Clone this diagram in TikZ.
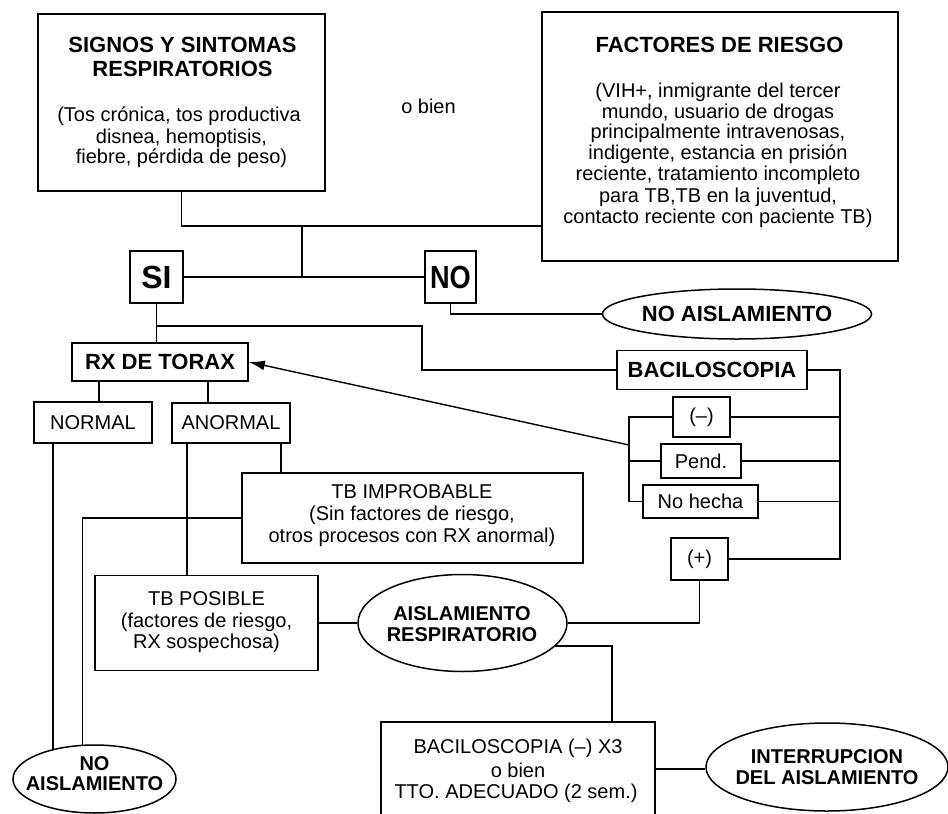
\documentclass[tikz,border=0pt]{standalone}
\usepackage{fontspec}
\setmainfont{Liberation Sans}
\usepackage{graphicx}
\usetikzlibrary{arrows.meta,shapes.geometric}
\begin{document}
\begin{tikzpicture}[x=1pt,y=-1pt,
  boxn/.style={draw,line width=1.6pt,inner sep=0pt},
  ell/.style={draw,ellipse,line width=1.5pt,inner sep=0pt},
  conn/.style={line width=1.4pt},
  tx/.style={anchor=base,inner sep=0pt,font=\fontsize{20}{22}\selectfont},
  btx/.style={anchor=base,inner sep=0pt,font=\bfseries\fontsize{22}{24}\selectfont},
  etx/.style={anchor=base,inner sep=0pt,font=\bfseries\fontsize{20}{22}\selectfont},
  rf/.style={font=\fontsize{20}{22}\selectfont},
  bf/.style={font=\bfseries\fontsize{22}{24}\selectfont}
]
\fill[white] (0,0) rectangle (948,814);
\useasboundingbox (0,0) rectangle (948,814);

% ---- top boxes
\node[boxn,minimum width=287pt,minimum height=177pt] (signos) at (181.5,102.5) {};
\node[btx] (signos1) at (182.5,52) {SIGNOS Y SINTOMAS};
\node[btx] (signos2) at (182.5,76) {RESPIRATORIOS};
\node[tx] (signos3) at (179,121) {(Tos crónica, tos productiva};
\node[tx] (signos4) at (181.5,143) {disnea, hemoptisis,};
\node[tx] (signos5) at (181.5,163) {fiebre, pérdida de peso)};

\node[tx] (obien) at (428.5,113) {o bien};

\node[boxn,minimum width=356pt,minimum height=249pt] (factores) at (720,136.5) {};
\node[btx] (fac1) at (719.5,52) {FACTORES DE RIESGO};
\node[tx] (fac2) at (718,97) {(VIH+, inmigrante del tercer};
\node[tx] (fac3) at (718,118) {mundo, usuario de drogas};
\node[tx] (fac4) at (718,138) {principalmente intravenosas,};
\node[tx] (fac5) at (718,159) {indigente, estancia en prisión};
\node[tx] (fac6) at (718,180) {reciente, tratamiento incompleto};
\node[tx] (fac7) at (718,202) {para TB,TB en la juventud,};
\node[tx] (fac8) at (718,223) {contacto reciente con paciente TB)};

% ---- SI / NO
\node[boxn,minimum width=53pt,minimum height=52pt,font=\bfseries\fontsize{32}{34}\selectfont] (si) at (156.5,277) {SI};
\node[boxn,minimum width=51pt,minimum height=52pt,font=\bfseries\fontsize{32}{34}\selectfont] (no) at (450.5,277) {\scalebox{0.85}[1]{NO}};
\node[ell,bf,minimum width=230pt,minimum height=50pt] (noais1) at (737,314) {NO AISLAMIENTO};

% ---- RX and baciloscopia
\node[boxn,bf,minimum width=176pt,minimum height=38pt] (rx) at (160,362) {RX DE TORAX};
\node[boxn,bf,minimum width=190pt,minimum height=39pt] (bacil) at (712,370) {BACILOSCOPIA};
\node[boxn,rf,minimum width=57pt,minimum height=40pt] (neg) at (701.5,417) {(–)};
\node[boxn,rf,minimum width=80pt,minimum height=34pt] (pend) at (701,461) {Pend.};
\node[boxn,rf,minimum width=115pt,minimum height=33pt] (nohecha) at (700.5,501.5) {No hecha};
\node[boxn,rf,minimum width=57pt,minimum height=42pt] (pos) at (699.5,559) {(+)};

\node[boxn,rf,minimum width=118pt,minimum height=41pt] (normal) at (93,422.5) {NORMAL};
\node[boxn,rf,minimum width=118pt,minimum height=40pt] (anormal) at (231,423) {ANORMAL};

% ---- TB improbable / posible
\node[boxn,minimum width=341pt,minimum height=90pt] (tbimp) at (412.5,518) {};
\node[tx] (tbimp1) at (412,498) {TB IMPROBABLE};
\node[tx] (tbimp2) at (412,520) {(Sin factores de riesgo,};
\node[tx] (tbimp3) at (412,542) {otros procesos con RX anormal)};

\node[boxn,minimum width=223pt,minimum height=95pt] (tbpos) at (206.5,623) {};
\node[tx] (tbpos1) at (206.5,605) {TB POSIBLE};
\node[tx] (tbpos2) at (206.5,627) {(factores de riesgo,};
\node[tx] (tbpos3) at (206.5,648) {RX sospechosa)};

\node[ell,minimum width=209pt,minimum height=97pt] (aislresp) at (462.5,623) {};
\node[etx] (aisl1) at (462,620) {AISLAMIENTO};
\node[etx] (aisl2) at (462,641) {RESPIRATORIO};

% ---- bottom
\node[boxn,minimum width=274pt,minimum height=94pt] (bx3) at (518,769) {};
\node[tx] (bx31) at (518,753) {BACILOSCOPIA (–) X3};
\node[tx] (bx32) at (518,777) {o bien};
\node[tx] (bx33) at (516,798) {TTO. ADECUADO (2 sem.)};

\node[ell,minimum width=242pt,minimum height=88pt] (interr) at (827,767) {};
\node[etx] (interr1) at (827,763) {INTERRUPCION};
\node[etx] (interr2) at (827,784) {DEL AISLAMIENTO};

\node[ell,minimum width=163pt,minimum height=68pt] (noais2) at (94.5,779) {};
\node[etx] (noais21) at (94.5,770) {NO};
\node[etx] (noais22) at (94.5,790) {AISLAMIENTO};

% ---- coordinates
\coordinate (j1) at (302,226);
\coordinate (j3) at (156.5,326);
\coordinate (k1) at (422,326);
\coordinate (rtop) at (840,370);
\coordinate (lb) at (629,445);

% ---- connectors
\draw[conn] (signos.south) |- (j1) -- (factores.west |- j1);
\draw[conn] (j1) -- (j1 |- si.east);
\draw[conn] (si.east) -- (no.west);
\draw[conn] (no.south) |- (noais1.west);
\draw[conn] (si.south) -- (si.south |- rx.north);
\draw[conn] (j3) -| (k1 |- bacil.west) -- (bacil.west);
\draw[conn] (bacil.east) -- (rtop) -- (rtop |- pos.east) -- (pos.east);
\draw[conn] (neg.east) -- (neg.east -| rtop);
\draw[conn] (pend.east) -- (pend.east -| rtop);
\draw[conn] (nohecha.east) -- (nohecha.east -| rtop);
\draw[conn] (neg.west) -- (neg.west -| lb) -- (nohecha.west -| lb) -- (nohecha.west);
\draw[conn] (pend.west) -- (pend.west -| lb);
\draw[conn,-{Latex[length=16pt,width=10pt]}] (lb) -- (rx.east);

\draw[conn] ([xshift=-61pt]rx.south) -- ([xshift=-61pt]rx.south |- normal.north);
\draw[conn] ([xshift=48pt]rx.south) -- ([xshift=48pt]rx.south |- anormal.north);
\draw[conn] ([xshift=-40pt]normal.south) |- (noais2.145);
\draw[conn] ([xshift=-44pt]anormal.south) -- ([xshift=-44pt]anormal.south |- tbpos.north);
\draw[conn] ([xshift=50pt]anormal.south) -- ([xshift=50pt]anormal.south |- tbimp.north);
\draw[conn] (tbimp.west) -| (noais2.109);

\draw[conn] (tbpos.east) -- (aislresp.west);
\draw[conn] (pos.south) |- (aislresp.east);
\draw[conn] (aislresp.-14) -| ([xshift=94pt]bx3.north);
\draw[conn] (bx3.east) -- (bx3.east -| interr.west);
\end{tikzpicture}
\end{document}
